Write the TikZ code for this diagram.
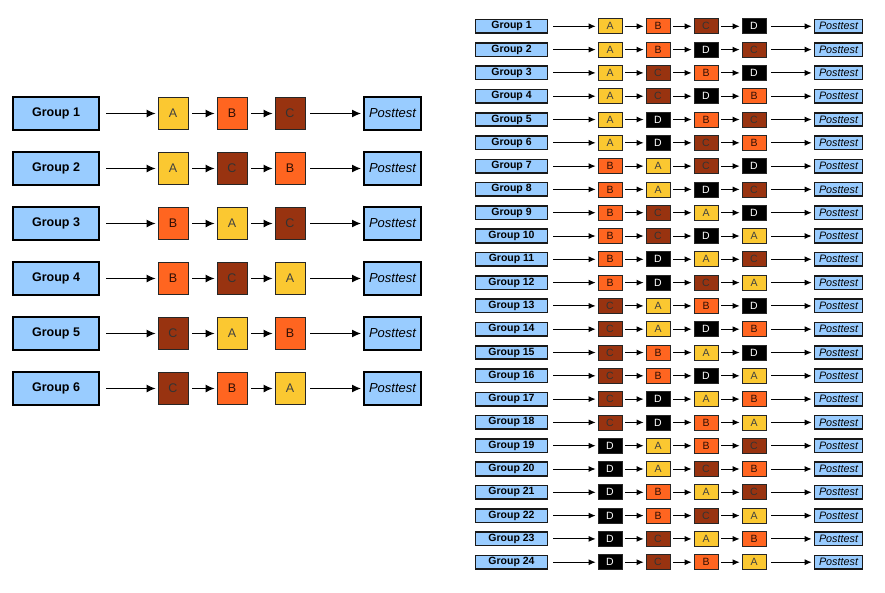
\documentclass[tikz,border=0pt]{standalone}
\usepackage{fontspec}
\setmainfont{Liberation Sans}
\usetikzlibrary{arrows.meta}

\definecolor{grpblue}{HTML}{99CCFF}
\definecolor{condA}{HTML}{FBC831}
\definecolor{condB}{HTML}{FF6520}
\definecolor{condC}{HTML}{983310}

\tikzset{
  grpL/.style={draw=black,line width=2pt,fill=grpblue,inner sep=0pt,
    minimum width=86pt,minimum height=33pt,font=\bfseries\fontsize{12.5}{14}\selectfont},
  postL/.style={grpL,minimum width=57pt,font=\itshape\fontsize{13}{15}\selectfont},
  cellL/.style={draw=black!85,line width=0.8pt,inner sep=0pt,
    minimum width=30pt,minimum height=32pt,font=\fontsize{12.5}{14}\selectfont},
  grpR/.style={draw=black!90,line width=1.6pt,fill=grpblue,inner sep=0pt,
    minimum width=72pt,minimum height=13.5pt,font=\bfseries\fontsize{10.5}{12}\selectfont},
  postR/.style={grpR,minimum width=48pt,font=\itshape\fontsize{10.8}{12}\selectfont},
  cellR/.style={draw=black!85,line width=0.7pt,inner sep=0pt,
    minimum width=24pt,minimum height=15pt,font=\fontsize{10.5}{12}\selectfont},
  boxA/.style={fill=condA,text=black!75},
  boxB/.style={fill=condB,text=black!70!condC},
  boxC/.style={fill=condC,text=black!80},
  boxD/.style={fill=black,text=white},
  arrL/.style={-{Latex[length=9pt,width=8pt]},line width=1.2pt},
  arrR/.style={-{Latex[length=7pt,width=6pt]},line width=1pt}
}

\begin{document}
\begin{tikzpicture}[x=1pt,y=-1pt]
  \useasboundingbox[fill=white] (0,0) rectangle (885,592);

  % three conditions
  \foreach \a/\b/\c [count=\i] in {A/B/C,A/C/B,B/A/C,B/C/A,C/A/B,C/B/A}{
    \node[grpL] (gL\i) at (56,{58.5+55*\i}) {Group \i};
    \node[cellL,box\a] (la\i) at (173,{58.5+55*\i}) {\a};
    \node[cellL,box\b] (lb\i) at (232,{58.5+55*\i}) {\b};
    \node[cellL,box\c] (lc\i) at (290,{58.5+55*\i}) {\c};
    \node[postL] (pL\i) at (392.5,{58.5+55*\i}) {Posttest};
    \draw[arrL,shorten <=6pt,shorten >=2pt] (gL\i) -- (la\i);
    \draw[arrL,shorten <=4pt,shorten >=2pt] (la\i) -- (lb\i);
    \draw[arrL,shorten <=4pt,shorten >=2pt] (lb\i) -- (lc\i);
    \draw[arrL,shorten <=5pt,shorten >=2pt] (lc\i) -- (pL\i);
  }

  % four conditions
  \foreach \a/\b/\c/\d [count=\i] in {A/B/C/D,A/B/D/C,A/C/B/D,A/C/D/B,A/D/B/C,A/D/C/B,
      B/A/C/D,B/A/D/C,B/C/A/D,B/C/D/A,B/D/A/C,B/D/C/A,
      C/A/B/D,C/A/D/B,C/B/A/D,C/B/D/A,C/D/A/B,C/D/B/A,
      D/A/B/C,D/A/C/B,D/B/A/C,D/B/C/A,D/C/A/B,D/C/B/A}{
    \node[grpR] (gR\i) at (511.5,{3+23.3*\i}) {Group \i};
    \node[cellR,box\a] (ra\i) at (610,{3+23.3*\i}) {\a};
    \node[cellR,box\b] (rb\i) at (658,{3+23.3*\i}) {\b};
    \node[cellR,box\c] (rc\i) at (706,{3+23.3*\i}) {\c};
    \node[cellR,box\d] (rd\i) at (754,{3+23.3*\i}) {\d};
    \node[postR] (pR\i) at (838.5,{3+23.3*\i}) {Posttest};
    \draw[arrR,shorten <=5pt,shorten >=2pt] (gR\i) -- (ra\i);
    \draw[arrR,shorten <=3pt,shorten >=2pt] (ra\i) -- (rb\i);
    \draw[arrR,shorten <=3pt,shorten >=2pt] (rb\i) -- (rc\i);
    \draw[arrR,shorten <=3pt,shorten >=2pt] (rc\i) -- (rd\i);
    \draw[arrR,shorten <=5pt,shorten >=2pt] (rd\i) -- (pR\i);
  }
\end{tikzpicture}
\end{document}
